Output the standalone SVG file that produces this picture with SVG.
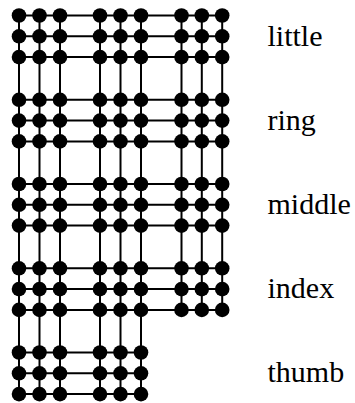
<svg xmlns="http://www.w3.org/2000/svg" width="355" height="403" viewBox="0 0 355 403">
<style>
.e{stroke:#000;stroke-width:2;fill:none}
.n{fill:#000}
.t{font-family:"Liberation Serif","Times New Roman","DejaVu Serif",serif;font-size:30px;fill:#000}
</style>
<rect width="355" height="403" fill="#fff"/>
<g id="connectors" class="e">
<path d="M19 15.5H222.2M19 36.3H222.2M19 57.1H222.2M19 99.8H222.2M19 120.6H222.2M19 141.4H222.2M19 184H222.2M19 204.8H222.2M19 225.6H222.2M19 268.3H222.2M19 289.1H222.2M19 309.9H222.2M19 352.5H141M19 373.3H141M19 394.1H141"/>
<path d="M19 15.5V394.1M39.5 15.5V394.1M60 15.5V394.1M100 15.5V394.1M120.5 15.5V394.1M141 15.5V394.1M181.5 15.5V309.9M201.8 15.5V309.9M222.2 15.5V309.9"/>
</g>
<g id="nodes" class="n">
<g id="little-1"><circle cx="19" cy="15.5" r="7.3"/><circle cx="39.5" cy="15.5" r="7.3"/><circle cx="60" cy="15.5" r="7.3"/><circle cx="100" cy="15.5" r="7.3"/><circle cx="120.5" cy="15.5" r="7.3"/><circle cx="141" cy="15.5" r="7.3"/><circle cx="181.5" cy="15.5" r="7.3"/><circle cx="201.8" cy="15.5" r="7.3"/><circle cx="222.2" cy="15.5" r="7.3"/></g>
<g id="little-2"><circle cx="19" cy="36.3" r="7.3"/><circle cx="39.5" cy="36.3" r="7.3"/><circle cx="60" cy="36.3" r="7.3"/><circle cx="100" cy="36.3" r="7.3"/><circle cx="120.5" cy="36.3" r="7.3"/><circle cx="141" cy="36.3" r="7.3"/><circle cx="181.5" cy="36.3" r="7.3"/><circle cx="201.8" cy="36.3" r="7.3"/><circle cx="222.2" cy="36.3" r="7.3"/></g>
<g id="little-3"><circle cx="19" cy="57.1" r="7.3"/><circle cx="39.5" cy="57.1" r="7.3"/><circle cx="60" cy="57.1" r="7.3"/><circle cx="100" cy="57.1" r="7.3"/><circle cx="120.5" cy="57.1" r="7.3"/><circle cx="141" cy="57.1" r="7.3"/><circle cx="181.5" cy="57.1" r="7.3"/><circle cx="201.8" cy="57.1" r="7.3"/><circle cx="222.2" cy="57.1" r="7.3"/></g>
<g id="ring-1"><circle cx="19" cy="99.8" r="7.3"/><circle cx="39.5" cy="99.8" r="7.3"/><circle cx="60" cy="99.8" r="7.3"/><circle cx="100" cy="99.8" r="7.3"/><circle cx="120.5" cy="99.8" r="7.3"/><circle cx="141" cy="99.8" r="7.3"/><circle cx="181.5" cy="99.8" r="7.3"/><circle cx="201.8" cy="99.8" r="7.3"/><circle cx="222.2" cy="99.8" r="7.3"/></g>
<g id="ring-2"><circle cx="19" cy="120.6" r="7.3"/><circle cx="39.5" cy="120.6" r="7.3"/><circle cx="60" cy="120.6" r="7.3"/><circle cx="100" cy="120.6" r="7.3"/><circle cx="120.5" cy="120.6" r="7.3"/><circle cx="141" cy="120.6" r="7.3"/><circle cx="181.5" cy="120.6" r="7.3"/><circle cx="201.8" cy="120.6" r="7.3"/><circle cx="222.2" cy="120.6" r="7.3"/></g>
<g id="ring-3"><circle cx="19" cy="141.4" r="7.3"/><circle cx="39.5" cy="141.4" r="7.3"/><circle cx="60" cy="141.4" r="7.3"/><circle cx="100" cy="141.4" r="7.3"/><circle cx="120.5" cy="141.4" r="7.3"/><circle cx="141" cy="141.4" r="7.3"/><circle cx="181.5" cy="141.4" r="7.3"/><circle cx="201.8" cy="141.4" r="7.3"/><circle cx="222.2" cy="141.4" r="7.3"/></g>
<g id="middle-1"><circle cx="19" cy="184" r="7.3"/><circle cx="39.5" cy="184" r="7.3"/><circle cx="60" cy="184" r="7.3"/><circle cx="100" cy="184" r="7.3"/><circle cx="120.5" cy="184" r="7.3"/><circle cx="141" cy="184" r="7.3"/><circle cx="181.5" cy="184" r="7.3"/><circle cx="201.8" cy="184" r="7.3"/><circle cx="222.2" cy="184" r="7.3"/></g>
<g id="middle-2"><circle cx="19" cy="204.8" r="7.3"/><circle cx="39.5" cy="204.8" r="7.3"/><circle cx="60" cy="204.8" r="7.3"/><circle cx="100" cy="204.8" r="7.3"/><circle cx="120.5" cy="204.8" r="7.3"/><circle cx="141" cy="204.8" r="7.3"/><circle cx="181.5" cy="204.8" r="7.3"/><circle cx="201.8" cy="204.8" r="7.3"/><circle cx="222.2" cy="204.8" r="7.3"/></g>
<g id="middle-3"><circle cx="19" cy="225.6" r="7.3"/><circle cx="39.5" cy="225.6" r="7.3"/><circle cx="60" cy="225.6" r="7.3"/><circle cx="100" cy="225.6" r="7.3"/><circle cx="120.5" cy="225.6" r="7.3"/><circle cx="141" cy="225.6" r="7.3"/><circle cx="181.5" cy="225.6" r="7.3"/><circle cx="201.8" cy="225.6" r="7.3"/><circle cx="222.2" cy="225.6" r="7.3"/></g>
<g id="index-1"><circle cx="19" cy="268.3" r="7.3"/><circle cx="39.5" cy="268.3" r="7.3"/><circle cx="60" cy="268.3" r="7.3"/><circle cx="100" cy="268.3" r="7.3"/><circle cx="120.5" cy="268.3" r="7.3"/><circle cx="141" cy="268.3" r="7.3"/><circle cx="181.5" cy="268.3" r="7.3"/><circle cx="201.8" cy="268.3" r="7.3"/><circle cx="222.2" cy="268.3" r="7.3"/></g>
<g id="index-2"><circle cx="19" cy="289.1" r="7.3"/><circle cx="39.5" cy="289.1" r="7.3"/><circle cx="60" cy="289.1" r="7.3"/><circle cx="100" cy="289.1" r="7.3"/><circle cx="120.5" cy="289.1" r="7.3"/><circle cx="141" cy="289.1" r="7.3"/><circle cx="181.5" cy="289.1" r="7.3"/><circle cx="201.8" cy="289.1" r="7.3"/><circle cx="222.2" cy="289.1" r="7.3"/></g>
<g id="index-3"><circle cx="19" cy="309.9" r="7.3"/><circle cx="39.5" cy="309.9" r="7.3"/><circle cx="60" cy="309.9" r="7.3"/><circle cx="100" cy="309.9" r="7.3"/><circle cx="120.5" cy="309.9" r="7.3"/><circle cx="141" cy="309.9" r="7.3"/><circle cx="181.5" cy="309.9" r="7.3"/><circle cx="201.8" cy="309.9" r="7.3"/><circle cx="222.2" cy="309.9" r="7.3"/></g>
<g id="thumb-1"><circle cx="19" cy="352.5" r="7.3"/><circle cx="39.5" cy="352.5" r="7.3"/><circle cx="60" cy="352.5" r="7.3"/><circle cx="100" cy="352.5" r="7.3"/><circle cx="120.5" cy="352.5" r="7.3"/><circle cx="141" cy="352.5" r="7.3"/></g>
<g id="thumb-2"><circle cx="19" cy="373.3" r="7.3"/><circle cx="39.5" cy="373.3" r="7.3"/><circle cx="60" cy="373.3" r="7.3"/><circle cx="100" cy="373.3" r="7.3"/><circle cx="120.5" cy="373.3" r="7.3"/><circle cx="141" cy="373.3" r="7.3"/></g>
<g id="thumb-3"><circle cx="19" cy="394.1" r="7.3"/><circle cx="39.5" cy="394.1" r="7.3"/><circle cx="60" cy="394.1" r="7.3"/><circle cx="100" cy="394.1" r="7.3"/><circle cx="120.5" cy="394.1" r="7.3"/><circle cx="141" cy="394.1" r="7.3"/></g>
</g>
<g id="labels" class="t">
<text x="267.5" y="45.5">little</text>
<text x="267.5" y="129.5">ring</text>
<text x="267.5" y="213.5">middle</text>
<text x="267.5" y="297.5">index</text>
<text x="267.5" y="381.5">thumb</text>
</g>
</svg>
